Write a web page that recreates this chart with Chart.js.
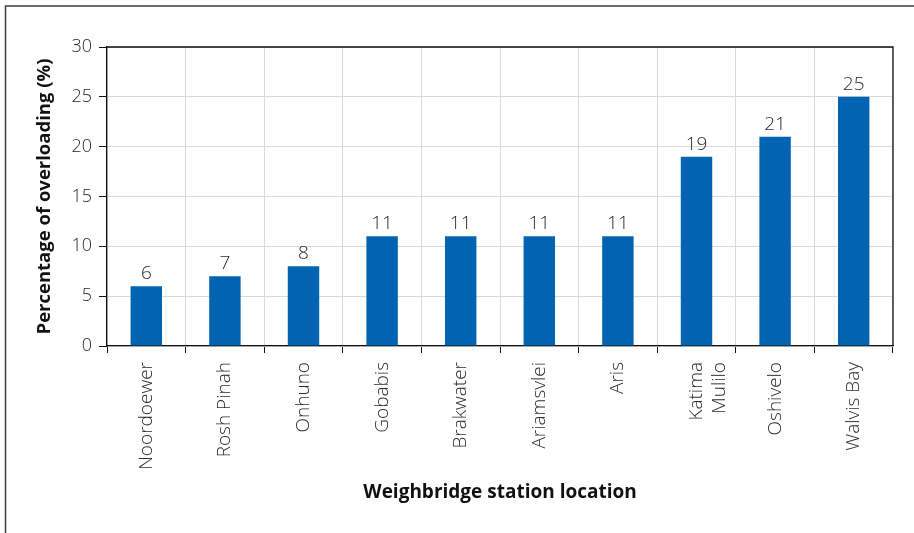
<!DOCTYPE html>
<html><head><meta charset="utf-8">
<script src="https://cdn.jsdelivr.net/npm/chart.js@4/dist/chart.umd.min.js"></script>
<style>html,body{margin:0;padding:0;background:#fff;} #wrap{width:914px;height:533px;position:relative}</style>
</head><body><div id="wrap"><canvas id="c" width="914" height="533"></canvas></div>
<script>
const stations = ['Noordoewer','Rosh Pinah','Onhuno','Gobabis','Brakwater','Ariamsvlei','Aris',['Katima','Mulilo'],'Oshivelo','Walvis Bay'];
const overloading = [6,7,8,11,11,11,11,19,21,25];
const yMin = 0, yMax = 30, yStep = 5;
const xTitle = 'Weighbridge station location';
const yTitle = 'Percentage of overloading (%)';

const FONT = "'Open Sans', 'Noto Sans', sans-serif";

const framePlugin = {
  id: 'frame',
  beforeDraw(chart) {
    const ctx = chart.ctx;
    ctx.save();
    ctx.fillStyle = '#fff';
    ctx.fillRect(0, 0, chart.width, chart.height);
    ctx.strokeStyle = '#3a3a3a';
    ctx.lineWidth = 1.5;
    ctx.beginPath();
    ctx.moveTo(5.5, chart.height);
    ctx.lineTo(5.5, 6);
    ctx.lineTo(chart.width, 6);
    ctx.stroke();
    ctx.restore();
  },
  afterDatasetsDraw(chart) {
    const ctx = chart.ctx;
    const a = chart.chartArea;
    ctx.save();
    ctx.strokeStyle = '#111';
    ctx.lineWidth = 1.3;
    ctx.beginPath();
    ctx.moveTo(a.left, a.top);
    ctx.lineTo(a.right, a.top);
    ctx.lineTo(a.right, a.bottom);
    ctx.stroke();
    // value labels
    const meta = chart.getDatasetMeta(0);
    ctx.fillStyle = '#2a2a2a';
    ctx.font = "300 19px " + FONT;
    ctx.textAlign = 'center';
    ctx.textBaseline = 'alphabetic';
    meta.data.forEach((bar, i) => {
      ctx.fillText(String(chart.data.datasets[0].data[i]), bar.x, bar.y - 7);
    });
    ctx.restore();
  }
};

new Chart(document.getElementById('c'), {
  type: 'bar',
  data: {
    labels: stations,
    datasets: [{
      data: overloading,
      backgroundColor: '#0064B0',
      borderWidth: 0,
      barPercentage: 0.4,
      categoryPercentage: 1.0
    }]
  },
  options: {
    responsive: false,
    animation: false,
    devicePixelRatio: 1,
    layout: { padding: { left: 30, right: 21, top: 47, bottom: 0 } },
    plugins: { legend: { display: false }, tooltip: { enabled: false } },
    scales: {
      x: {
        afterFit(s) { s.height = 187; },
        grid: { color: '#d9d9d9', lineWidth: 1, offset: true, tickColor: '#111', tickLength: 7, drawTicks: true },
        border: { color: '#111', width: 1.3 },
        ticks: {
          color: '#2a2a2a', minRotation: 90, maxRotation: 90, autoSkip: false, padding: 9,
          font: { family: FONT, size: 19, weight: 300 }
        },
        title: {
          display: true, text: xTitle, color: '#111',
          font: { family: FONT, size: 19, weight: 'bold' },
          padding: { top: 0, bottom: 29.5 }
        }
      },
      y: {
        min: yMin, max: yMax,
        afterFit(s) { s.width = 77; },
        grid: { color: '#d9d9d9', lineWidth: 1, tickColor: '#111', tickLength: 8, drawTicks: true },
        border: { color: '#111', width: 1.3 },
        ticks: {
          stepSize: yStep, color: '#2a2a2a', padding: 7,
          font: { family: FONT, size: 18, weight: 300 }
        },
        title: {
          display: true, text: yTitle, color: '#111',
          font: { family: FONT, size: 18.5, weight: 'bold' },
          padding: { top: 4, bottom: 0 }
        }
      }
    }
  },
  plugins: [framePlugin]
});
</script>
</body></html>
